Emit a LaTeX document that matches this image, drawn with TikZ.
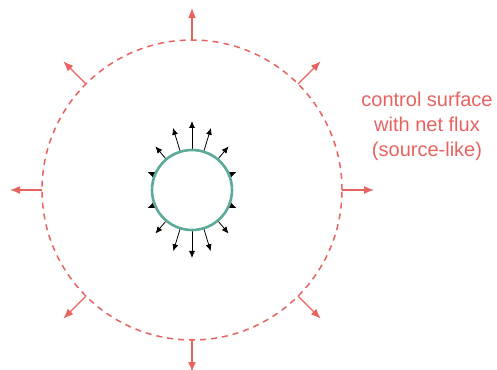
\documentclass[tikz,border=0pt]{standalone}
\usepackage{fontspec}
\setmainfont{Liberation Sans}
\usetikzlibrary{arrows.meta}
\definecolor{fluxred}{RGB}{232,98,96}
\definecolor{teal}{RGB}{92,170,154}
\begin{document}
\begin{tikzpicture}[x=1pt,y=1pt,
  surf/.style={circle,draw=fluxred,line width=1.5pt,dash pattern=on 6pt off 5pt,minimum size=300pt,inner sep=0pt,outer sep=0pt},
  src/.style={circle,draw=teal,line width=2.6pt,minimum size=80pt,inner sep=0pt,outer sep=0pt},
  bigarrow/.style={draw=fluxred,line width=1.4pt,-{Latex[length=10pt,width=8pt]}},
  smallarrow/.style={draw=black,line width=0.8pt,-{Latex[length=7pt,width=6pt]}},
  label/.style={text=fluxred,font=\fontsize{20}{25}\selectfont,align=center}]
\useasboundingbox (0,0) rectangle (497,369);
\node[surf] (cs) at (192,179) {};
\foreach \a in {0,45,...,315}{
  \draw[bigarrow] (cs.\a) -- ++(\a:32);
}
\foreach \a/\l in {90/29,73/25,107/25,50/17,130/17,22/8,158/8,
                   -90/28,-73/24,-107/24,-50/17,-130/17,-22/8,-158/8}{
  \draw[smallarrow] (192,179) ++(\a:40) coordinate (b) -- ++(\a:\l);
}
\node[src] (s) at (192,179) {};
\node[label] (t) at (427,243) {control surface\\with net flux\\(source-like)};
\end{tikzpicture}
\end{document}
